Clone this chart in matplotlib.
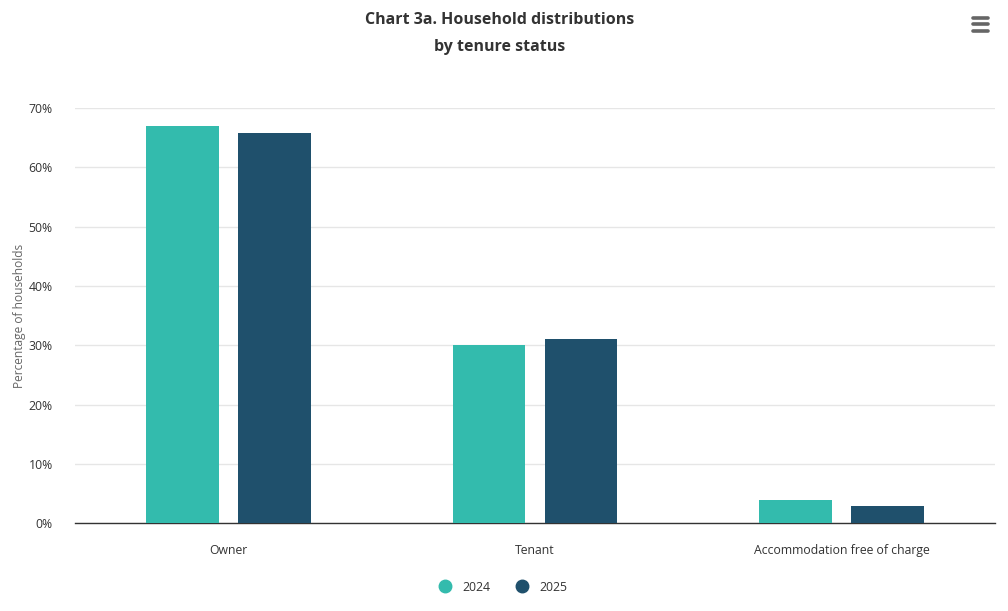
import matplotlib
matplotlib.use("Agg")
import matplotlib.pyplot as plt
import numpy as np

categories = ["Owner", "Tenant", "Accommodation free of charge"]
series_names = ["2024", "2025"]
values_2024 = [67.0, 30.0, 4.0]
values_2025 = [65.8, 31.0, 2.9]
y_ticks = [0, 10, 20, 30, 40, 50, 60, 70]

colors = ["#33BBAD", "#1F506C"]
plt.rcParams["font.family"] = ["Open Sans", "DejaVu Sans"]

fig = plt.figure(figsize=(10.08, 6.11), dpi=100)
ax = fig.add_axes([0.0744, 0.1435, 0.9127, 0.6795])

x = np.arange(len(categories))
width = 0.237
offset = 0.15
ax.bar(x - offset, values_2024, width, color=colors[0], label=series_names[0], zorder=3)
ax.bar(x + offset, values_2025, width, color=colors[1], label=series_names[1], zorder=3)

ax.set_xlim(-0.5, len(categories) - 0.5)
ax.set_ylim(0, 70)
ax.set_yticks(y_ticks)
ax.set_yticklabels([f"{t}%" for t in y_ticks])
ax.set_xticks(x)
ax.set_xticklabels(categories)

ax.grid(axis="y", color="#e6e6e6", linewidth=1, zorder=0)
for s in ["top", "right", "left"]:
    ax.spines[s].set_visible(False)
ax.spines["bottom"].set_color("#333333")
ax.spines["bottom"].set_linewidth(1)
ax.tick_params(axis="y", length=0, pad=16, labelsize=8.8, labelcolor="#333333")
ax.tick_params(axis="x", length=0, pad=15, labelsize=8.8, labelcolor="#333333")

ax.set_ylabel("Percentage of households", fontsize=8.6, color="#666666")
ax.yaxis.set_label_coords(-0.053, 0.5)

fig.text(0.496, 0.967, "Chart 3a. Household distributions", ha="center", va="center",
         fontsize=11.5, fontweight="bold", color="#333333")
fig.text(0.496, 0.923, "by tenure status", ha="center", va="center",
         fontsize=11.5, fontweight="bold", color="#333333")

# legend
handles = [plt.Line2D([], [], marker="o", linestyle="", markersize=9, color=c) for c in colors]
fig.legend(handles, series_names, loc="center", bbox_to_anchor=(0.496, 0.039), ncol=2,
           frameon=False, fontsize=8.8, handletextpad=0.4, columnspacing=1.6,
           labelcolor="#333333")

# menu icon
for yy in [0.949, 0.960, 0.971]:
    fig.add_artist(plt.Line2D([0.965, 0.98], [yy, yy], color="#666666", linewidth=2.6,
                              solid_capstyle="round"))

fig.savefig("out.png", dpi=100)
